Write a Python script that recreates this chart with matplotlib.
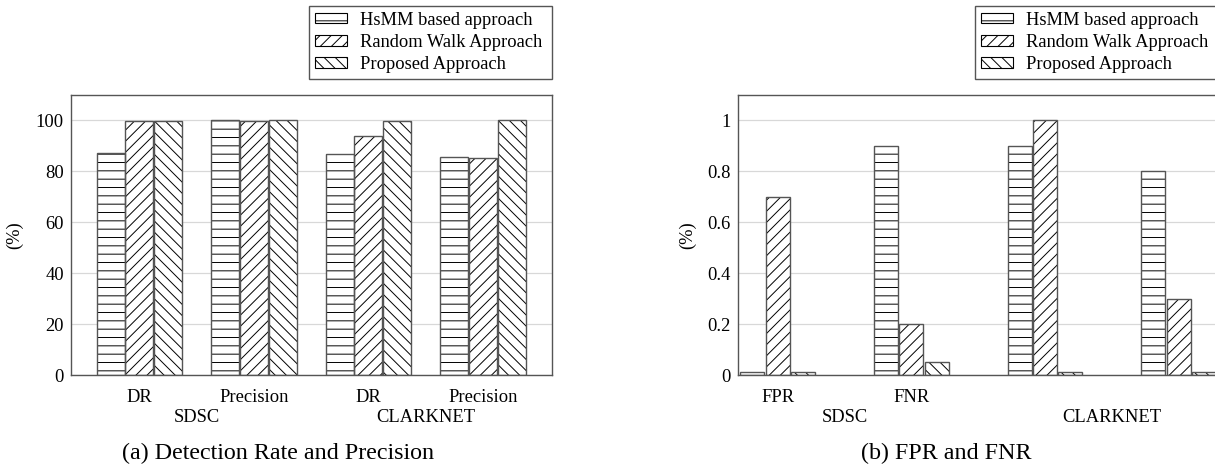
import numpy as np
import matplotlib
matplotlib.use('Agg')
import matplotlib.pyplot as plt
import matplotlib.patches as mpatches

plt.rcParams['font.family'] = ['Liberation Serif', 'DejaVu Serif']
plt.rcParams['hatch.linewidth'] = 0.7

series = ["HsMM based approach", "Random Walk Approach", "Proposed Approach"]
hatches = ['--', '///', '\\\\\\']
datasets = ["SDSC", "CLARKNET"]

# (a) detection rate and precision
rate_labels = ["DR", "Precision", "DR", "Precision"]
rate_hsmm = [87.2, 100, 87, 85.6]
rate_rw = [99.6, 99.6, 94, 85.1]
rate_prop = [99.9, 100, 99.7, 100]

# (b) FPR and FNR
err_labels = ["FPR", "FNR", "", ""]
err_hsmm = [0.01, 0.9, 0.9, 0.8]
err_rw = [0.7, 0.2, 1.0, 0.3]
err_prop = [0.01, 0.05, 0.01, 0.01]

W, H = 1215, 468
fs = 13.3
edge = '#555555'

fig = plt.figure(figsize=(W / 100, H / 100), dpi=100)


def draw(left, labels, values, width, step, xlim, ymax, yticks, yticklabels, ylab_x):
    ax = fig.add_axes([left / W, 93 / H, 481 / W, 280 / H])
    x = np.arange(len(labels))
    for i, vals in enumerate(values):
        pos = x + (i - 1) * step
        ax.bar(pos, vals, width, color='white', edgecolor='black', linewidth=0,
               hatch=hatches[i], zorder=2)
        ax.bar(pos, vals, width, fill=False, edgecolor=edge, linewidth=1.0, zorder=3)
    ax.set_xlim(*xlim)
    ax.set_ylim(0, ymax)
    ax.set_yticks(yticks)
    ax.set_yticklabels(yticklabels, fontsize=fs)
    ax.set_xticks([])
    ax.tick_params(axis='y', length=0, pad=5)
    ax.grid(axis='y', color='#d8d8d8', linewidth=0.9, zorder=0)
    ax.set_axisbelow(True)
    for s in ax.spines.values():
        s.set_color(edge)
        s.set_linewidth(1.0)
        s.set_zorder(4)
    ax.set_ylabel('(%)', fontsize=fs)
    ax.yaxis.set_label_coords(ylab_x, 0.5)
    trans = ax.get_xaxis_transform()
    for xi, lab in zip(x, labels):
        if lab:
            ax.text(xi, -(401.7 - 375) / 280, lab, transform=trans, ha='center',
                    va='baseline', fontsize=fs)
    for k, name in enumerate(datasets):
        ax.text(2 * k + 0.5, -(421.7 - 375) / 280, name, transform=trans,
                ha='center', va='baseline', fontsize=fs)
    return ax


draw(70.7, rate_labels, [rate_hsmm, rate_rw, rate_prop], 0.245, 0.25, (-0.6, 3.6),
     110, [0, 20, 40, 60, 80, 100], ['0', '20', '40', '60', '80', '100'], -0.098)
draw(737.7, err_labels, [err_hsmm, err_rw, err_prop], 0.18, 0.19, (-0.3, 3.3),
     1.1, [0, 0.2, 0.4, 0.6, 0.8, 1.0], ['0', '0.2', '0.4', '0.6', '0.8', '1'], -0.087)

handles = [mpatches.Patch(facecolor='white', edgecolor='black', linewidth=0.8,
                          hatch=hatches[i], label=series[i]) for i in range(3)]
for x0 in [309, 975]:
    leg = fig.legend(handles=handles, loc='upper left', mode='expand',
                     bbox_to_anchor=(x0 / W, 1 - 80 / H, 243 / W, 74 / H),
                     bbox_transform=fig.transFigure, borderaxespad=0,
                     fancybox=False, edgecolor=edge, framealpha=1, fontsize=fs,
                     handlelength=1.75, handleheight=0.5, handletextpad=0.7,
                     labelspacing=0.29, borderpad=0.3)
    leg.get_frame().set_linewidth(1.0)

fig.text(277.6 / W, 1 - 459 / H, '(a) Detection Rate and Precision', ha='center',
         va='baseline', fontsize=17.3)
fig.text(946 / W, 1 - 459 / H, '(b) FPR and FNR', ha='center', va='baseline',
         fontsize=17.3)

fig.savefig('out.png', dpi=100)
